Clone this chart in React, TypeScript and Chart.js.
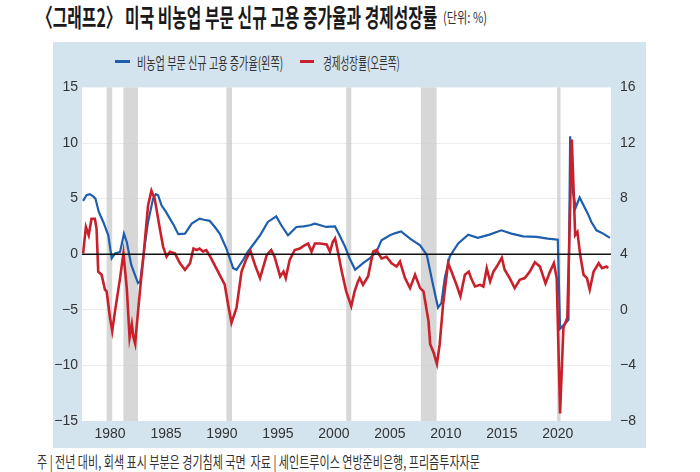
import React, { useEffect, useLayoutEffect, useRef, useState } from "react";
import { Chart, registerables } from "chart.js";

Chart.register(...registerables);

// ---- data ----
const titleText = "〈그래프2〉 미국 비농업 부문 신규 고용 증가율과 경제성장률";
const unitText = "(단위: %)";
const blueLabel = "비농업 부문 신규 고용 증가율(왼쪽)";
const redLabel = "경제성장률(오른쪽)";
const noteText = "주 | 전년 대비, 회색 표시 부분은 경기침체 국면  자료 | 세인트루이스 연방준비은행, 프리즘투자자문";

const xTicks = [1980, 1985, 1990, 1995, 2000, 2005, 2010, 2015, 2020];
const leftTicks = [-15, -10, -5, 0, 5, 10, 15];
const rightTicks = [-8, -4, 0, 4, 8, 12, 16];

const recessionStarts = [1979.7, 1981.2, 1990.4, 2001.1, 2007.77, 2019.94];
const recessionEnds = [1980.2, 1982.5, 1990.9, 2001.55, 2009.17, 2020.24];

// 비농업 부문 신규 고용 증가율 (left axis)
const blueYears = [
  1977.6, 1977.9, 1978.2, 1978.5, 1978.7, 1979.0, 1979.4, 1979.85, 1980.15, 1980.45,
  1980.9, 1981.25, 1981.5, 1981.9, 1982.5, 1982.7, 1983.1, 1983.4, 1983.85, 1984.1,
  1984.3, 1984.6, 1985.0, 1985.35, 1985.7, 1986.1, 1986.7, 1987.3, 1988.0, 1988.4,
  1988.9, 1989.4, 1989.8, 1990.4, 1991.0, 1991.3, 1991.9, 1992.3, 1992.65, 1993.4,
  1994.1, 1994.85, 1995.3, 1995.9, 1996.65, 1997.3, 1997.85, 1998.3, 1998.8, 1999.3,
  2000.1, 2000.5, 2001.0, 2001.4, 2001.9, 2002.6, 2003.2, 2003.8, 2004.25, 2005.0,
  2005.5, 2006.0, 2006.8, 2007.7, 2008.3, 2008.85, 2009.3, 2009.6, 2009.9, 2010.35,
  2011.1, 2012.0, 2012.85, 2013.9, 2014.95, 2015.85, 2016.9, 2018.1, 2019.1, 2020.0,
  2020.2, 2020.5, 2020.95, 2021.1, 2021.35, 2021.6, 2021.95, 2022.25, 2022.7, 2023.0,
  2023.45, 2024.05, 2024.65,
];
const blueValues = [
  4.8, 5.3, 5.4, 5.2, 5.0, 3.8, 2.9, 1.7, -0.37, 0.07,
  0.2, 1.85, 1.1, -0.96, -2.6, -2.45, 0.8, 2.9, 5.0, 5.4,
  5.3, 4.4, 3.8, 3.2, 2.6, 1.8, 1.85, 2.75, 3.2, 3.1,
  3.0, 2.4, 1.85, 0.5, -1.26, -1.4, -0.5, 0.2, 0.67, 1.7,
  2.9, 3.4, 2.6, 1.7, 2.45, 2.5, 2.6, 2.75, 2.6, 2.45,
  2.5, 1.7, 0.67, -0.37, -1.4, -0.8, -0.37, 0.2, 1.26, 1.7,
  1.9, 2.05, 1.4, 0.8, -0.07, -2.75, -4.8, -4.4, -2.15, -0.2,
  0.96, 1.76, 1.47, 1.76, 2.15, 1.85, 1.6, 1.55, 1.4, 1.3,
  -6.7, -6.4, -5.9, 10.6, 5.6, 4.2, 5.1, 4.5, 3.6, 2.9,
  2.15, 1.85, 1.47,
];

// 경제성장률 (right axis)
const redYears = [
  1977.6, 1977.85, 1978.1, 1978.35, 1978.65, 1978.8, 1978.95, 1979.25, 1979.55, 1979.7,
  1980.0, 1980.2, 1980.45, 1980.9, 1981.2, 1981.5, 1981.75, 1981.95, 1982.1, 1982.25,
  1982.4, 1982.7, 1983.0, 1983.4, 1983.7, 1984.0, 1984.45, 1984.75, 1985.05, 1985.35,
  1985.8, 1986.25, 1986.7, 1987.15, 1987.45, 1987.75, 1988.0, 1988.3, 1988.6, 1989.0,
  1989.65, 1990.25, 1990.55, 1990.85, 1991.3, 1991.75, 1992.2, 1992.55, 1992.95, 1993.4,
  1994.0, 1994.4, 1994.7, 1995.2, 1995.5, 1995.7, 1996.05, 1996.5, 1996.95, 1997.4,
  1997.7, 1998.0, 1998.3, 1998.75, 1999.35, 1999.65, 1999.9, 2000.1, 2000.3, 2000.7,
  2001.1, 2001.55, 2001.85, 2002.15, 2002.3, 2002.6, 2003.05, 2003.5, 2003.8, 2004.25,
  2004.7, 2005.15, 2005.6, 2005.9, 2006.35, 2006.8, 2007.25, 2007.7, 2008.0, 2008.45,
  2008.6, 2008.9, 2009.2, 2009.45, 2009.75, 2010.2, 2010.5, 2010.95, 2011.3, 2011.7,
  2012.05, 2012.25, 2012.6, 2013.05, 2013.35, 2013.65, 2013.95, 2014.25, 2014.55, 2015.0,
  2015.25, 2015.7, 2016.15, 2016.6, 2017.05, 2017.5, 2017.95, 2018.4, 2018.9, 2019.3,
  2019.65, 2019.9, 2020.2, 2020.5, 2020.85, 2021.25, 2021.55, 2021.75, 2022.0, 2022.3,
  2022.6, 2022.85, 2023.2, 2023.65, 2023.95, 2024.35, 2024.5,
];
const redValues = [
  4.06, 5.96, 5.37, 6.55, 6.55, 5.84, 2.75, 2.52, 1.45, 1.33,
  -0.57, -1.52, -0.1, 2.28, 4.06, 1.56, -2.0, -1.04, -2.0, -2.45,
  -1.04, 1.56, 3.94, 7.5, 8.57, 7.97, 5.84, 4.53, 3.82, 4.18,
  4.06, 3.35, 2.88, 3.35, 4.41, 4.3, 4.41, 4.2, 4.3, 3.75,
  2.75, 1.8, 0.38, -0.93, 0.14, 2.75, 3.7, 4.23, 3.23, 2.28,
  3.94, 4.3, 3.82, 2.4, 2.75, 2.28, 3.59, 4.3, 4.41, 4.65,
  4.77, 4.18, 4.77, 4.77, 4.7, 4.18, 4.89, 5.13, 4.41, 2.75,
  1.33, 0.26, 1.33, 2.04, 2.28, 1.8, 2.4, 4.18, 4.3, 3.7,
  3.82, 3.35, 3.11, 3.47, 2.28, 1.56, 2.52, 1.56, 1.33, -0.81,
  -2.47, -3.07, -3.9, -2.47, 0.38, 3.35, 2.75, 1.8, 0.97, 2.52,
  2.75, 2.28, 1.68, 1.8, 1.68, 2.99, 2.04, 2.75, 3.11, 3.75,
  2.88, 2.28, 1.56, 2.16, 2.28, 2.75, 3.42, 3.11, 1.9, 2.75,
  3.35, 2.28, -7.45, -1.28, -0.57, 12.25, 5.37, 5.6, 3.94, 2.52,
  2.28, 1.45, 2.75, 3.35, 2.99, 3.11, 3.0,
];

const BLUE = "#1d5fad";
const RED = "#c9212b";
const PANEL = "#d3e4ef";
const TEXT = "#333333";
const KFONT = "'Noto Sans CJK KR', 'Noto Sans', sans-serif";
const NFONT = "'Liberation Sans Narrow', 'Liberation Sans', Arial, sans-serif";

const fmt = (v: number) => (v < 0 ? "\u2212" + Math.abs(v) : String(v));

function FitText({ text, width, style }: { text: string; width: number; style: React.CSSProperties }) {
  const ref = useRef<HTMLSpanElement>(null);
  const [scale, setScale] = useState(1);
  useLayoutEffect(() => {
    if (ref.current) {
      const w = ref.current.offsetWidth;
      if (w > 0) setScale(width / w);
    }
  }, [text, width]);
  return (
    <span
      ref={ref}
      style={{
        display: "inline-block",
        whiteSpace: "pre",
        transform: `scaleX(${scale})`,
        transformOrigin: "left center",
        ...style,
      }}
    >
      {text}
    </span>
  );
}

const bgPlugin = {
  id: "bgBands",
  beforeDraw(chart: any) {
    const { ctx, chartArea } = chart;
    ctx.save();
    ctx.fillStyle = "#ffffff";
    ctx.fillRect(chartArea.left, chartArea.top, chartArea.right - chartArea.left, chartArea.bottom - chartArea.top);
    ctx.restore();
  },
  beforeDatasetsDraw(chart: any) {
    const { ctx, chartArea, scales } = chart;
    const xs = scales.x;
    ctx.save();
    ctx.fillStyle = "rgba(205,205,205,0.8)";
    recessionStarts.forEach((s, i) => {
      const x0 = xs.getPixelForValue(s);
      const x1 = xs.getPixelForValue(recessionEnds[i]);
      ctx.fillRect(x0, chartArea.top, x1 - x0, chartArea.bottom - chartArea.top);
    });
    ctx.restore();
  },
  afterDatasetsDraw(chart: any) {
    const { ctx, chartArea, scales } = chart;
    const y = scales.yL.getPixelForValue(0);
    ctx.save();
    ctx.strokeStyle = "#111111";
    ctx.lineWidth = 1.6;
    ctx.beginPath();
    ctx.moveTo(chartArea.left, y);
    ctx.lineTo(chartArea.right, y);
    ctx.stroke();
    ctx.restore();
  },
};

function LineChart() {
  const canvasRef = useRef<HTMLCanvasElement>(null);
  useEffect(() => {
    if (!canvasRef.current) return;
    const chart = new Chart(canvasRef.current, {
      type: "line",
      data: {
        datasets: [
          {
            label: redLabel,
            data: redYears.map((x, i) => ({ x, y: redValues[i] })),
            yAxisID: "yR",
            borderColor: RED,
            backgroundColor: RED,
            borderWidth: 2.6,
            pointRadius: 0,
            tension: 0,
            order: 0,
          },
          {
            label: blueLabel,
            data: blueYears.map((x, i) => ({ x, y: blueValues[i] })),
            yAxisID: "yL",
            borderColor: BLUE,
            backgroundColor: BLUE,
            borderWidth: 2.2,
            pointRadius: 0,
            tension: 0,
            order: 1,
          },
        ],
      },
      options: {
        animation: false,
        responsive: false,
        events: [],
        layout: { padding: { top: 14, left: 0, right: 0, bottom: 0 } },
        plugins: {
          legend: { display: false },
          title: { display: false },
          tooltip: { enabled: false },
        },
        scales: {
          x: {
            type: "linear",
            min: 1977.5,
            max: 2024.75,
            grid: { display: false, drawTicks: false },
            border: { display: false },
            afterBuildTicks: (s: any) => {
              s.ticks = xTicks.map((v) => ({ value: v }));
            },
            afterFit: (s: any) => {
              s.height = 27;
            },
            ticks: {
              autoSkip: false,
              maxRotation: 0,
              padding: 5,
              color: TEXT,
              font: { family: NFONT, size: 14 },
              callback: (v: any) => String(v),
            },
          },
          yL: {
            type: "linear",
            position: "left",
            min: -15,
            max: 15,
            afterBuildTicks: (s: any) => {
              s.ticks = leftTicks.map((v) => ({ value: v }));
            },
            afterFit: (s: any) => {
              s.width = 29;
            },
            grid: {
              drawTicks: false,
              color: (c: any) => (c.tick && (c.tick.value === 0 || Math.abs(c.tick.value) === 15) ? "rgba(0,0,0,0)" : "#ececec"),
              lineWidth: 1,
            },
            border: { display: false },
            ticks: {
              padding: 4,
              color: TEXT,
              font: { family: NFONT, size: 14 },
              callback: (v: any) => fmt(Number(v)),
            },
          },
          yR: {
            type: "linear",
            position: "right",
            min: -8,
            max: 16,
            afterBuildTicks: (s: any) => {
              s.ticks = rightTicks.map((v) => ({ value: v }));
            },
            afterFit: (s: any) => {
              s.width = 35;
            },
            grid: { display: false, drawTicks: false },
            border: { display: false },
            ticks: {
              padding: 9,
              color: TEXT,
              font: { family: NFONT, size: 14 },
              callback: (v: any) => fmt(Number(v)),
            },
          },
        },
      } as any,
      plugins: [bgPlugin],
    });
    return () => chart.destroy();
  }, []);
  return <canvas ref={canvasRef} width={593} height={378} style={{ width: 593, height: 378, display: "block" }} />;
}

export default function App() {
  return (
    <div style={{ position: "absolute", left: 0, top: 0, width: 700, height: 472, background: "#ffffff", overflow: "hidden", fontFamily: KFONT, color: TEXT }}>
      <div style={{ position: "absolute", left: 37, top: 0, height: 32, lineHeight: "32px" }}>
        <FitText text={titleText} width={400} style={{ fontSize: 25, fontWeight: 700, color: "#1a1a1a" }} />
      </div>
      <div style={{ position: "absolute", left: 443, top: 5, height: 22, lineHeight: "22px" }}>
        <FitText text={unitText} width={44} style={{ fontSize: 15, color: "#333" }} />
      </div>
      <div style={{ position: "absolute", left: 53, top: 42, width: 593, height: 406, background: PANEL }} />
      <div style={{ position: "absolute", left: 115, top: 60, width: 15, height: 3, background: BLUE }} />
      <div style={{ position: "absolute", left: 137, top: 51, height: 22, lineHeight: "22px" }}>
        <FitText text={blueLabel} width={146} style={{ fontSize: 16, color: "#333" }} />
      </div>
      <div style={{ position: "absolute", left: 300, top: 60, width: 14, height: 3, background: RED }} />
      <div style={{ position: "absolute", left: 323, top: 51, height: 22, lineHeight: "22px" }}>
        <FitText text={redLabel} width={77} style={{ fontSize: 16, color: "#333" }} />
      </div>
      <div style={{ position: "absolute", left: 53, top: 70 }}>
        <LineChart />
      </div>
      <div style={{ position: "absolute", left: 37, top: 451, height: 20, lineHeight: "20px" }}>
        <FitText text={noteText} width={443} style={{ fontSize: 16, color: "#333" }} />
      </div>
    </div>
  );
}
